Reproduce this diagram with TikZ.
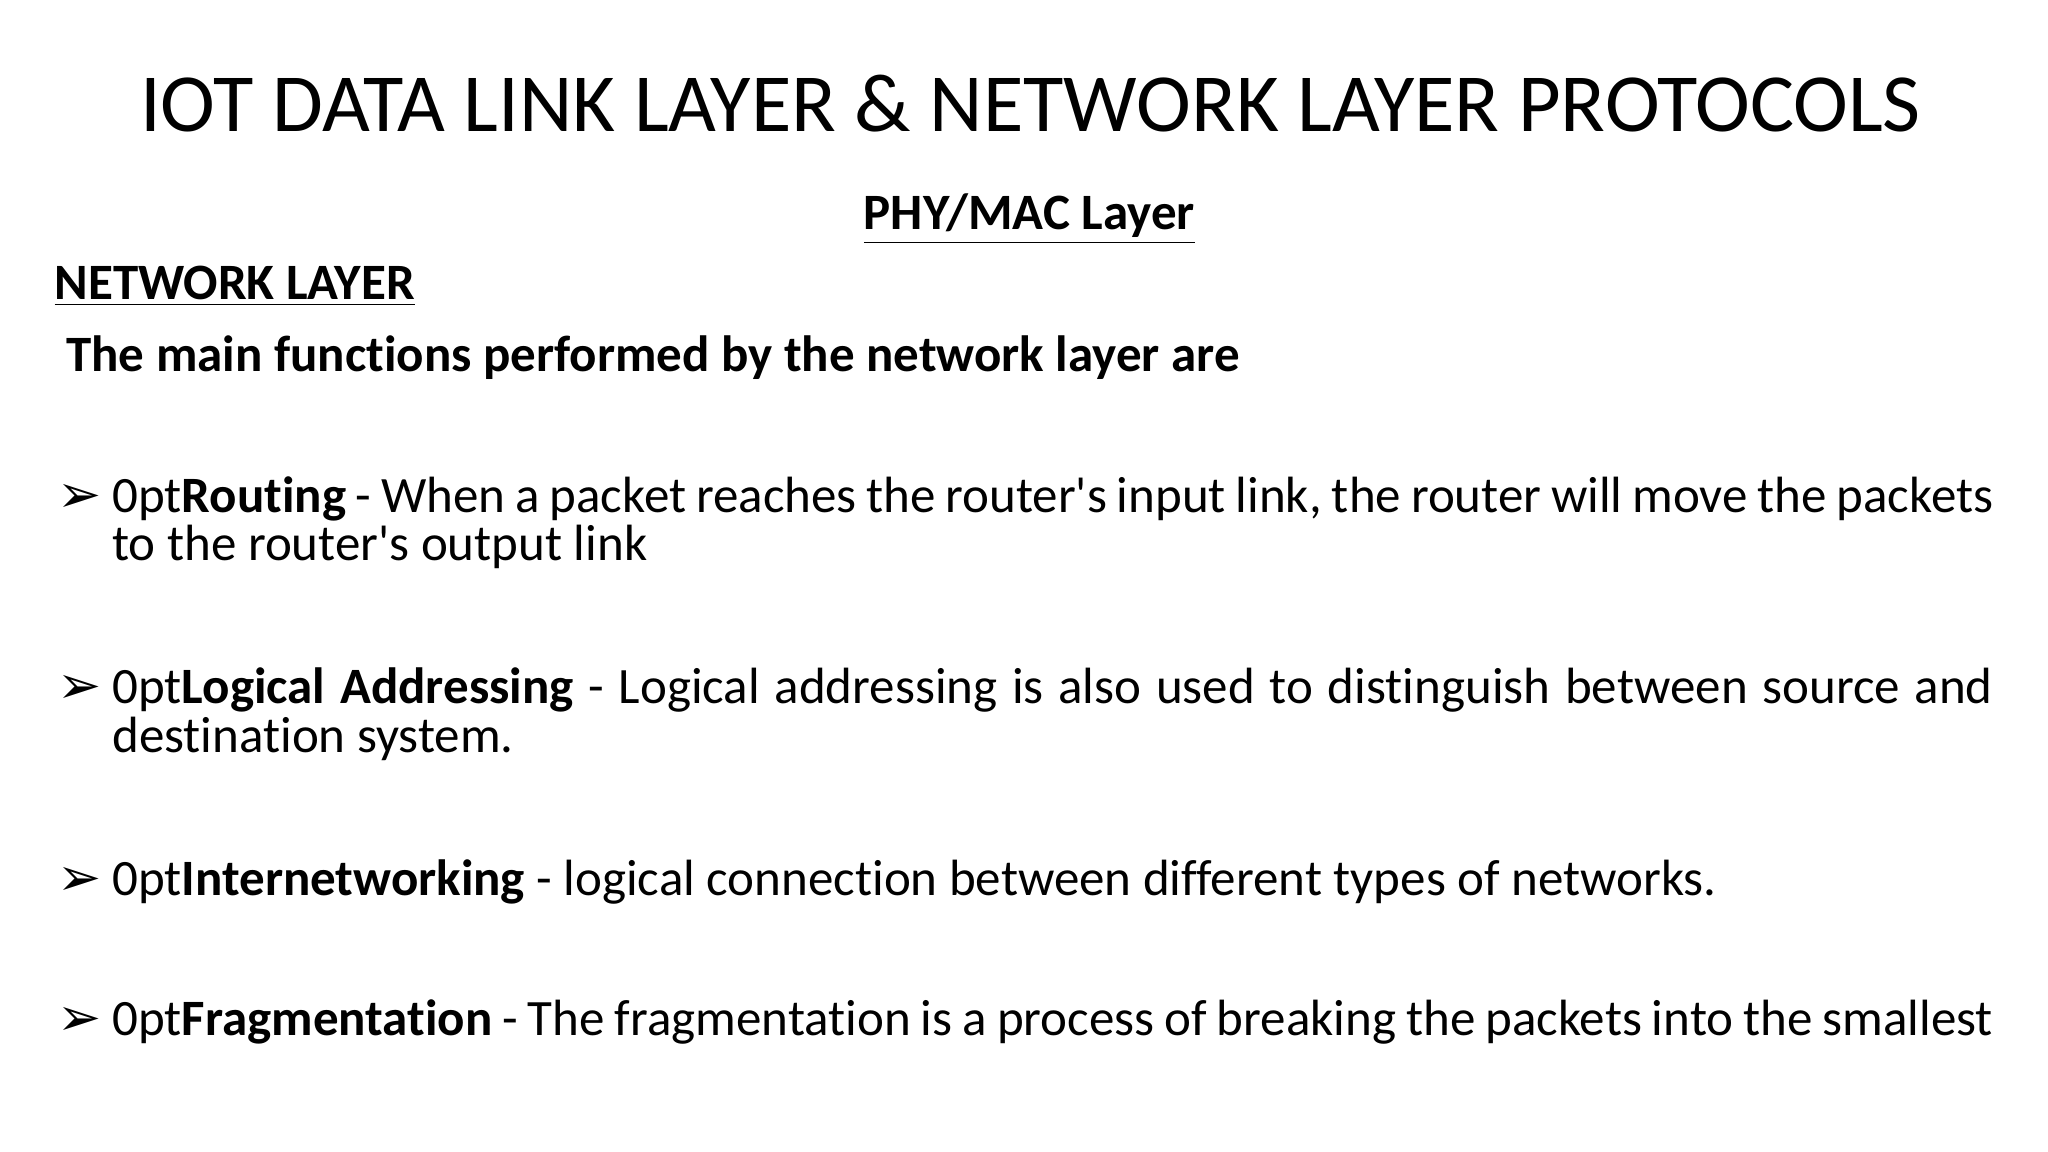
\documentclass[tikz,border=0pt]{standalone}
\usepackage{fontspec}
\setmainfont{Carlito}[Ligatures={NoCommon}]
\newfontfamily\symfont{DejaVu Sans}
\newcommand{\aps}{\textquotesingle}
\begin{document}
\begin{tikzpicture}[x=0.01313cm,y=-0.01313cm,
  body/.style={anchor=base west,inner sep=0pt,font=\fontsize{14.5}{13.9}\selectfont\hyphenpenalty=10000\exhyphenpenalty=10000,text width=18.8cm,align=justify},
  bul/.style={anchor=base west,inner sep=0pt,font=\symfont\bfseries\fontsize{15}{14}\selectfont},
  head/.style={inner sep=0pt,font=\bfseries\fontsize{14.5}{16}\selectfont}]
\useasboundingbox[fill=white] (0,0) rectangle (1560,877);
\node[anchor=base,inner sep=0pt,font=\fontsize{23.5}{28}\selectfont] (title) at (785,100) {IOT DATA LINK LAYER \& NETWORK LAYER PROTOCOLS};
\node[head,anchor=base] (phy) at (784,175) {\underline{PHY/MAC Layer}};
\node[head,anchor=base west] (net) at (41,228) {\underline{NETWORK LAYER}};
\node[head,anchor=base west] (main) at (50,283) {The main functions performed by the network layer are};
\node[bul] (b1) at (43,390) {➢};
\node[body] (t1) at (85,390) {\textbf{Routing} - When a packet reaches the router\aps s input link, the router will move the packets\linebreak to the router\aps s output link};
\node[bul] (b2) at (43,536) {➢};
\node[body] (t2) at (85,536) {\textbf{Logical Addressing} - Logical addressing is also used to distinguish between source and\linebreak destination system.};
\node[bul] (b3) at (43,682) {➢};
\node[body] (t3) at (85,682) {\textbf{Internetworking} - logical connection between different types of networks.};
\node[bul] (b4) at (43,789) {➢};
\node[body] (t4) at (85,789) {\textbf{Fragmentation} - The fragmentation is a process of breaking the packets into the smallest};
\end{tikzpicture}
\end{document}
